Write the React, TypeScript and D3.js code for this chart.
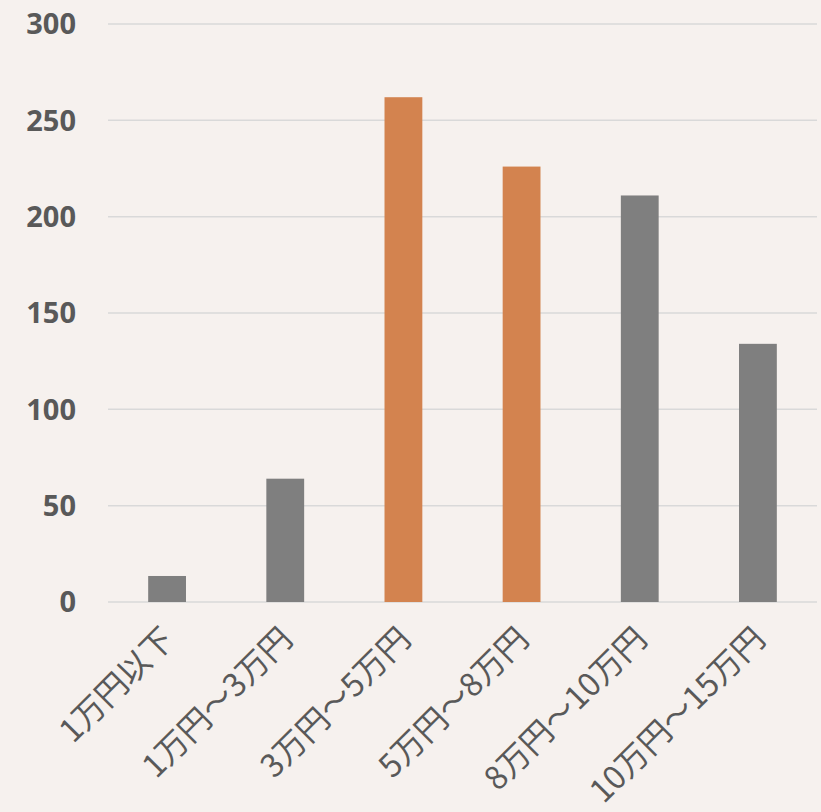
import React from "react";
import * as d3 from "d3";

const categories = ["1万円以下", "1万円～3万円", "3万円～5万円", "5万円～8万円", "8万円～10万円", "10万円～15万円"];
const values = [13.5, 64, 262, 226, 211, 134];
const highlighted = [false, false, true, true, false, false];
const yTicks = [0, 50, 100, 150, 200, 250, 300];

const W = 821;
const H = 812;
const FONT = "'Noto Sans CJK JP', 'Noto Sans', sans-serif";
const TICKFONT = "'Noto Sans', 'Noto Sans CJK JP', sans-serif";

export default function App() {
  const x = d3.scaleBand<string>().domain(categories).range([108, 817]).paddingInner(0.68).paddingOuter(0.34);
  const y = d3.scaleLinear().domain([0, 300]).range([602, 24]);
  return (
    <svg width={W} height={H} style={{ position: "absolute", left: 0, top: 0 }}>
      <rect x={0} y={0} width={W} height={H} fill="#F6F1EE" />
      {yTicks.map((t) => (
        <g key={t}>
          <line x1={108} x2={817} y1={y(t)} y2={y(t)} stroke="#D9D9D9" strokeWidth={1.5} />
          <text x={76} y={y(t)} dy="0.36em" textAnchor="end" fontFamily={TICKFONT} fontWeight="bold" fontSize={29} fill="#595959">
            {t}
          </text>
        </g>
      ))}
      {categories.map((c, i) => (
        <rect
          key={c}
          x={x(c)}
          y={y(values[i])}
          width={x.bandwidth()}
          height={y(0) - y(values[i])}
          fill={highlighted[i] ? "#D3834F" : "#7F7F7F"}
        />
      ))}
      {categories.map((c) => {
        const cx = (x(c) as number) + x.bandwidth() / 2;
        return (
          <text
            key={"l" + c}
            transform={`translate(${cx + 1},${633}) rotate(-45)`}
            textAnchor="end"
            dy="0.36em"
            fontFamily={FONT}
            fontSize={32}
            fill="#595959"
          >
            {c}
          </text>
        );
      })}
    </svg>
  );
}
